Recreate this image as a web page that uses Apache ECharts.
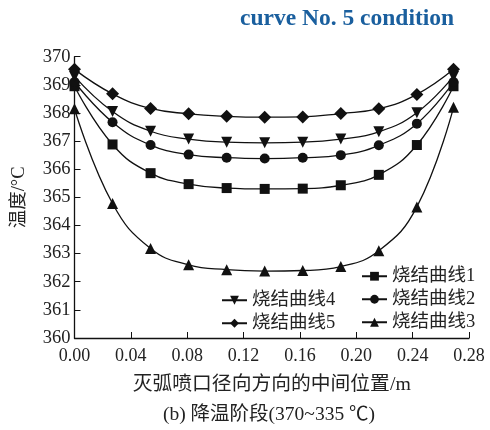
<!DOCTYPE html>
<html><head><meta charset="utf-8">
<script src="https://cdn.jsdelivr.net/npm/echarts@6/dist/echarts.min.js"></script>
<style>html,body{margin:0;padding:0;background:#fff}#c{width:490px;height:430px}</style>
</head><body><div id="c"></div>
<script>
var xPos = [0, 0.027, 0.054, 0.081, 0.108, 0.135, 0.162, 0.189, 0.216, 0.243, 0.269];
var curve1 = [368.95, 366.88, 365.86, 365.47, 365.33, 365.30, 365.31, 365.43, 365.80, 366.86, 368.95];
var curve2 = [369.10, 367.67, 366.86, 366.52, 366.41, 366.38, 366.41, 366.50, 366.85, 367.62, 369.10];
var curve3 = [368.15, 364.78, 363.18, 362.60, 362.43, 362.38, 362.40, 362.54, 363.10, 364.66, 368.20];
var curve4 = [369.30, 368.05, 367.35, 367.07, 366.96, 366.94, 366.96, 367.07, 367.33, 368.01, 369.30];
var curve5 = [369.55, 368.68, 368.16, 367.97, 367.88, 367.85, 367.86, 367.98, 368.15, 368.66, 369.55];
var names = ['烧结曲线1', '烧结曲线2', '烧结曲线3', '烧结曲线4', '烧结曲线5'];
var xTicks = [0, 0.04, 0.08, 0.12, 0.16, 0.20, 0.24, 0.28];
var yTicks = [360, 361, 362, 363, 364, 365, 366, 367, 368, 369, 370];

var serif = '"Liberation Serif", "Noto Sans CJK SC", serif';
function pairs(ys){ return ys.map(function(v,i){ return [xPos[i], v]; }); }
var symbols = [
  {symbol:'rect', size:10, rot:0},
  {symbol:'circle', size:10, rot:0},
  {symbol:'triangle', size:11, rot:0},
  {symbol:'triangle', size:11, rot:180},
  {symbol:'diamond', size:13, rot:0}
];
var datas = [curve1, curve2, curve3, curve4, curve5];
var series = datas.map(function(d, i){
  return {
    name: names[i], type: 'line', data: pairs(d), smooth: 0.45,
    symbol: symbols[i].symbol, symbolSize: symbols[i].size, symbolRotate: symbols[i].rot,
    lineStyle: {color:'#111', width:1.3}, itemStyle: {color:'#111'},
    emphasis: {disabled:true}
  };
});
var chart = echarts.init(document.getElementById('c'));
var legendCommon = {
  orient:'vertical', itemWidth:25, itemHeight:11, itemGap:4.5,
  textStyle:{fontFamily:serif, fontSize:18.5, color:'#222'}, selectedMode:false
};
chart.setOption({
  animation:false,
  title:[
    {text:'curve No. 5 condition', left:235, top:2, textStyle:{fontFamily:serif, fontWeight:'bold', fontSize:23.5, color:'#1a5f9e'}},
    {text:'(b) 降温阶段(370~335 ℃)', left:158, top:400, textStyle:{fontFamily:serif, fontWeight:'normal', fontSize:19.5, color:'#222'}}
  ],
  grid:{left:74.5, right:21, top:56.7, bottom:92},
  legend:[
    Object.assign({data:['烧结曲线1','烧结曲线2','烧结曲线3'], left:356, top:262}, legendCommon),
    Object.assign({data:['烧结曲线4','烧结曲线5'], left:216, top:286}, legendCommon)
  ],
  xAxis:{
    type:'value', min:0, max:0.28, interval:0.04,
    name:'灭弧喷口径向方向的中间位置/m', nameLocation:'middle', nameGap:37,
    nameTextStyle:{fontFamily:serif, fontSize:19.8, color:'#222'},
    axisLine:{lineStyle:{color:'#111', width:1.3}},
    axisTick:{inside:true, length:6, lineStyle:{color:'#111'}},
    splitLine:{show:false},
    axisLabel:{fontFamily:serif, fontSize:18, color:'#222', margin:9, formatter:function(v){return v.toFixed(2);}}
  },
  yAxis:{
    type:'value', min:360, max:370, interval:1,
    name:'温度/°C', nameLocation:'middle', nameGap:46, nameRotate:90,
    nameTextStyle:{fontFamily:serif, fontSize:18.5, color:'#222'},
    axisLine:{show:true, lineStyle:{color:'#111', width:1.3}},
    axisTick:{show:true, inside:true, length:6, lineStyle:{color:'#111'}},
    splitLine:{show:false},
    axisLabel:{fontFamily:serif, fontSize:18.5, color:'#222', margin:4}
  },
  series: series
});
</script></body></html>
